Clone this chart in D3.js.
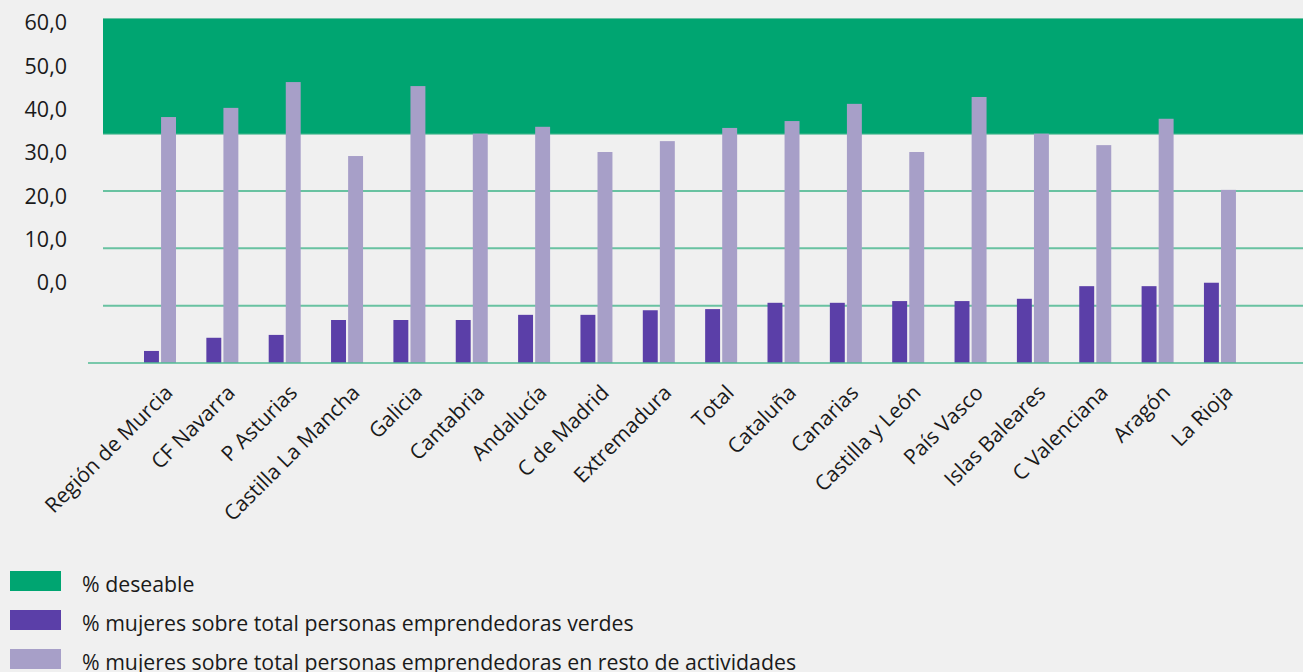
<!DOCTYPE html>
<html>
<head>
<meta charset="utf-8">
<script src="https://cdn.jsdelivr.net/npm/d3@7/dist/d3.min.js"></script>
<style>
  html, body { margin: 0; padding: 0; background: #f0f0f0; }
  svg { display: block; }
  text { font-family: "Open Sans", "Noto Sans", sans-serif; fill: #1a1a1a; }
</style>
</head>
<body>
<svg id="chart" width="1303" height="672"></svg>
<script>
const categories = ["Región de Murcia", "CF Navarra", "P Asturias", "Castilla La Mancha", "Galicia",
  "Cantabria", "Andalucía", "C de Madrid", "Extremadura", "Total", "Cataluña", "Canarias",
  "Castilla y León", "País Vasco", "Islas Baleares", "C Valenciana", "Aragón", "La Rioja"];
const verdes = [2.1, 4.4, 4.9, 7.5, 7.5, 7.5, 8.4, 8.4, 9.2, 9.4, 10.5, 10.5, 10.8, 10.8, 11.2, 13.4, 13.4, 14.0];
const resto  = [42.9, 44.5, 49.0, 36.1, 48.3, 40.0, 41.2, 36.8, 38.7, 41.0, 42.2, 45.2, 36.8, 46.4, 40.0, 38.0, 42.6, 30.2];
const deseable = [40, 60];
const tickValues = [0, 10, 20, 30, 40, 50, 60];
const seriesNames = ["% deseable", "% mujeres sobre total personas emprendedoras verdes",
  "% mujeres sobre total personas emprendedoras en resto de actividades"];
const colors = ["#00a571", "#5b3fa8", "#a79fc8"];

const svg = d3.select("#chart");
const y = d3.scaleLinear().domain([0, 60]).range([363, 19]);
const yLabel = d3.scaleLinear().domain([0, 60]).range([283, 23]);
const step = 62.35, c0 = 160;
const x = d3.scaleBand().domain(categories)
  .range([c0 - step / 2, c0 - step / 2 + step * categories.length]).padding(0);
const xs = d3.scaleBand().domain(["verdes", "resto"]).range([-16, 16]).paddingInner(0.125);

const gridX0 = 103, gridX1 = 1303;

// gridlines
svg.append("g").selectAll("line").data(tickValues.filter(v => v > 0)).join("line")
  .attr("x1", gridX0).attr("x2", gridX1)
  .attr("y1", d => y(d)).attr("y2", d => y(d))
  .attr("stroke", "#52bb94").attr("stroke-width", 2).attr("opacity", 0.85);

// desirable zone
svg.append("rect")
  .attr("x", gridX0).attr("width", gridX1 - gridX0)
  .attr("y", y(deseable[1])).attr("height", y(deseable[0]) - y(deseable[1]))
  .attr("fill", colors[0]);

// bars
const groups = svg.append("g").selectAll("g").data(categories).join("g")
  .attr("transform", d => `translate(${x(d) + x.bandwidth() / 2},0)`);
groups.append("rect")
  .attr("x", xs("verdes")).attr("width", xs.bandwidth())
  .attr("y", (d, i) => y(verdes[i])).attr("height", (d, i) => y(0) - y(verdes[i]))
  .attr("fill", colors[1]);
groups.append("rect")
  .attr("x", xs("resto")).attr("width", xs.bandwidth())
  .attr("y", (d, i) => y(resto[i])).attr("height", (d, i) => y(0) - y(resto[i]))
  .attr("fill", colors[2]);

// baseline
svg.append("line")
  .attr("x1", 88).attr("x2", gridX1).attr("y1", y(0)).attr("y2", y(0))
  .attr("stroke", "#52bb94").attr("stroke-width", 2).attr("opacity", 0.75);

// y axis labels
const yAxis = d3.axisLeft(yLabel).tickValues(tickValues)
  .tickFormat(d => d3.format(".1f")(d).replace(".", ",")).tickSize(0).tickPadding(0);
const ya = svg.append("g").attr("transform", "translate(67,0)").call(yAxis);
ya.select(".domain").remove();
ya.selectAll("text").attr("font-size", 21.5).attr("font-family", "Open Sans, sans-serif").attr("fill", "#1a1a1a");

// category labels
svg.append("g").selectAll("text").data(categories).join("text")
  .attr("transform", d => `translate(${x(d) + x.bandwidth() / 2 + 14},394) rotate(-45)`)
  .attr("text-anchor", "end")
  .attr("font-size", 21)
  .text(d => d);

// legend
const legend = svg.append("g").selectAll("g").data(seriesNames).join("g")
  .attr("transform", (d, i) => `translate(10,${571 + i * 39})`);
legend.append("rect").attr("width", 51).attr("height", 20).attr("fill", (d, i) => colors[i]);
legend.append("text").attr("x", 72).attr("y", 21).attr("font-size", 21.3).text(d => d);
</script>
</body>
</html>
